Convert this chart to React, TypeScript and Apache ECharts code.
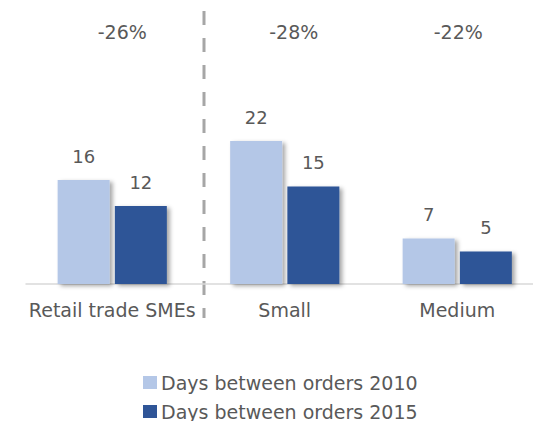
import React, { useEffect, useRef } from "react";
import * as echarts from "echarts";

const categories = ["Retail trade SMEs", "Small", "Medium"];
const days2010 = [16, 22, 7];
const days2015 = [12, 15, 5];
const changeLabels = ["-26%", "-28%", "-22%"];
const seriesNames = ["Days between orders 2010", "Days between orders 2015"];

const FONT = "DejaVu Sans";
const TEXT = "#595959";
const PCT_SHIFT = [10, 9, 1];

export default function App() {
  const ref = useRef<HTMLDivElement>(null);
  useEffect(() => {
    const chart = echarts.init(ref.current!, null, { renderer: "svg" });
    const shadow = {
      shadowBlur: 4,
      shadowOffsetX: 3,
      shadowOffsetY: 2,
      shadowColor: "rgba(0,0,0,0.35)",
    };
    const label = {
      show: true,
      position: "top" as const,
      distance: 15,
      color: TEXT,
      fontSize: 18,
      fontFamily: FONT,
    };
    const legendBase = {
      orient: "horizontal",
      left: 143,
      itemWidth: 14,
      itemHeight: 13,
      itemGap: 10,
      icon: "rect",
      padding: 0,
      textStyle: { color: TEXT, fontSize: 19, fontFamily: FONT, padding: [0, 0, 0, -1] },
    };
    chart.setOption({
      animation: false,
      textStyle: { fontFamily: FONT },
      grid: {
        left: 26,
        width: 517.5,
        top: 24,
        bottom: 137,
        containLabel: false,
        outerBoundsMode: "none",
      },
      xAxis: {
        type: "category",
        data: categories,
        axisLine: { lineStyle: { color: "#d9d9d9", width: 1.5 } },
        axisTick: { show: false },
        axisLabel: { color: TEXT, fontSize: 19, fontFamily: FONT, margin: 16, interval: 0 },
      },
      yAxis: { type: "value", min: 0, max: 40, show: false, splitLine: { show: false } },
      legend: [
        { ...legendBase, top: 373, data: [seriesNames[0]] },
        { ...legendBase, top: 402, data: [seriesNames[1]] },
      ],
      series: [
        {
          name: seriesNames[0],
          type: "bar",
          data: days2010,
          barWidth: 52,
          barGap: "10%",
          itemStyle: { color: "#b4c7e7", ...shadow },
          label,
        },
        {
          name: seriesNames[1],
          type: "bar",
          data: days2015,
          barWidth: 52,
          itemStyle: { color: "#2f5597", ...shadow },
          label,
        },
      ],
    });
    const texts = categories.map((c, i) => {
      const x = chart.convertToPixel({ xAxisIndex: 0 }, c) as number;
      return {
        type: "text",
        x: x + PCT_SHIFT[i],
        y: 32,
        style: {
          text: changeLabels[i],
          fill: TEXT,
          fontSize: 19,
          fontFamily: FONT,
          align: "center",
          verticalAlign: "middle",
        },
      };
    });
    chart.setOption({
      graphic: [
        {
          type: "line",
          shape: { x1: 204, y1: 11, x2: 204, y2: 318 },
          style: { stroke: "#a6a6a6", lineWidth: 3, lineDash: [14, 13] },
        },
        ...texts,
      ],
    });
    return () => chart.dispose();
  }, []);
  return (
    <div
      ref={ref}
      style={{ position: "fixed", left: 0, top: 0, width: 533, height: 421, background: "#fff" }}
    />
  );
}
